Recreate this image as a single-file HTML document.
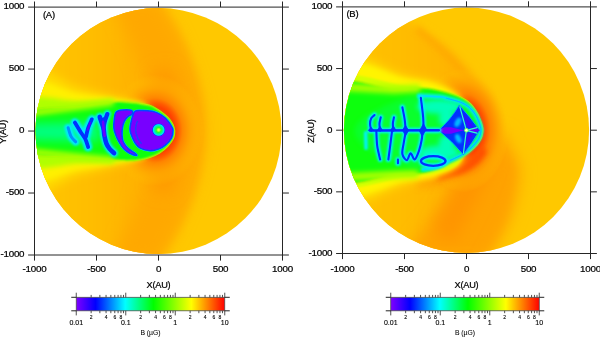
<!DOCTYPE html>
<html><head><meta charset="utf-8"><title>Heliosphere magnetic field</title>
<style>
html,body{margin:0;padding:0;background:#fff;}
body{width:600px;height:337px;overflow:hidden;}
svg{display:block;}
text{font-family:"Liberation Sans",sans-serif;fill:#000;stroke:#000;stroke-width:0.22px;}
.t{font-size:9.8px;letter-spacing:-0.25px;}
.m{font-size:7px;stroke-width:0.12px;}
.s{font-size:5px;stroke-width:0.1px;}
.b{font-size:6.8px;stroke-width:0.05px;}
</style></head><body>
<svg width="600" height="337" viewBox="0 0 600 337">
<defs>
<linearGradient id="rb" x1="0" x2="1" y1="0" y2="0">
<stop offset="0" stop-color="#8000ff"/>
<stop offset="0.13" stop-color="#0000ff"/>
<stop offset="0.33" stop-color="#00ffff"/>
<stop offset="0.52" stop-color="#00ff00"/>
<stop offset="0.775" stop-color="#ffff00"/>
<stop offset="1" stop-color="#ff0000"/>
</linearGradient>
<clipPath id="cca"><circle cx="0" cy="0" r="123.0"/></clipPath>
<clipPath id="ccb"><circle cx="0" cy="0" r="122.6"/></clipPath>
<filter id="b1" filterUnits="userSpaceOnUse" x="-200" y="-200" width="400" height="400"><feGaussianBlur stdDeviation="0.6"/></filter>
<filter id="b15" filterUnits="userSpaceOnUse" x="-200" y="-200" width="400" height="400"><feGaussianBlur stdDeviation="0.9"/></filter>
<filter id="b2" filterUnits="userSpaceOnUse" x="-200" y="-200" width="400" height="400"><feGaussianBlur stdDeviation="1.2"/></filter>
<filter id="b3" filterUnits="userSpaceOnUse" x="-200" y="-200" width="400" height="400"><feGaussianBlur stdDeviation="2.5"/></filter>
<filter id="b5" filterUnits="userSpaceOnUse" x="-200" y="-200" width="400" height="400"><feGaussianBlur stdDeviation="5"/></filter>
<filter id="b8" filterUnits="userSpaceOnUse" x="-200" y="-200" width="400" height="400"><feGaussianBlur stdDeviation="8"/></filter>
<filter id="b12" filterUnits="userSpaceOnUse" x="-200" y="-200" width="400" height="400"><feGaussianBlur stdDeviation="12"/></filter>
</defs>
<g transform="translate(158.50 131.05)" clip-path="url(#cca)"><g transform="translate(0.15 -0.2)">
<defs>
<radialGradient id="aglow" cx="0.5" cy="0.5" r="0.5">
<stop offset="0.42" stop-color="#ff4000" stop-opacity="1"/>
<stop offset="0.49" stop-color="#ff5a00" stop-opacity="1"/>
<stop offset="0.58" stop-color="#ff8400" stop-opacity="0.95"/>
<stop offset="0.75" stop-color="#ffa400" stop-opacity="0.7"/>
<stop offset="0.94" stop-color="#ffc000" stop-opacity="0.15"/>
<stop offset="1" stop-color="#ffc000" stop-opacity="0"/>
</radialGradient>
<linearGradient id="abow" gradientUnits="userSpaceOnUse" x1="-123" y1="0" x2="45" y2="0">
<stop offset="0" stop-color="#ffc600"/>
<stop offset="0.3" stop-color="#ffbe00"/>
<stop offset="0.55" stop-color="#ffb400"/>
<stop offset="1" stop-color="#ffb000"/>
</linearGradient>
<radialGradient id="asun" cx="0.5" cy="0.5" r="0.5">
<stop offset="0" stop-color="#f0ff60"/>
<stop offset="0.2" stop-color="#a0ff30"/>
<stop offset="0.36" stop-color="#20ff30"/>
<stop offset="0.55" stop-color="#00ff80"/>
<stop offset="0.78" stop-color="#00e0ff"/>
<stop offset="0.92" stop-color="#0040ff"/>
<stop offset="1" stop-color="#6000ff" stop-opacity="0"/>
</radialGradient>
</defs>
<rect x="-130" y="-130" width="260" height="260" fill="#ffc800"/>
<!-- broad orange bow region -->
<path d="M45 0 C45 -30 40 -60 22 -95 C15 -108 8 -118 0 -128 L-140 -135 L-140 135 L0 128 C8 118 15 108 22 95 C40 60 45 30 45 0Z" fill="url(#abow)" filter="url(#b5)"/>
<!-- plume -->
<path d="M44 0 C44 -12 43 -22 40 -31 C37 -45 33 -58 28 -71 C23 -84 18 -96 12 -107 L0 -130 L-46 -130 L-36 -107 C-30 -94 -25 -82 -21 -71 C-17 -58 -13 -45 -10 -31 L-6 0 L-10 31 C-13 45 -17 58 -21 71 C-25 82 -30 94 -36 107 L-46 130 L0 130 L12 107 C18 96 23 84 28 71 C33 58 37 45 40 31 C43 22 44 12 44 0Z" fill="#ffa800" filter="url(#b8)"/>
<path d="M2 -60 C8 -40 13 -18 18 0 C13 18 8 40 2 60" fill="none" stroke="#ff9800" stroke-width="20" filter="url(#b8)"/>
<!-- red glow at nose -->
<ellipse cx="-4" cy="-0.5" rx="48" ry="56" fill="url(#aglow)"/>

<!-- fuzzy tail -->
<path d="M-135.00 -58.00 C-125.83 -74.67 -95.83 -47.17 -80.00 -43.00 C-64.17 -38.83 -51.33 -36.17 -40.00 -33.00 C-28.67 -29.83 -17.83 -29.50 -12.00 -24.00 C-6.17 -18.50 -5.00 -8.00 -5.00 0.00 C-5.00 8.00 -6.17 18.33 -12.00 24.00 C-17.83 29.67 -28.67 30.67 -40.00 34.00 C-51.33 37.33 -64.17 40.17 -80.00 44.00 C-95.83 47.83 -125.83 74.00 -135.00 57.00 C-144.17 40.00 -144.17 -41.33 -135.00 -58.00Z" fill="#ffdc00" filter="url(#b5)"/>
<path d="M-135.00 -46.00 C-125.83 -60.00 -95.83 -39.50 -80.00 -37.00 C-64.17 -34.50 -51.33 -33.17 -40.00 -31.00 C-28.67 -28.83 -17.83 -29.17 -12.00 -24.00 C-6.17 -18.83 -5.00 -8.00 -5.00 0.00 C-5.00 8.00 -6.17 18.67 -12.00 24.00 C-17.83 29.33 -28.67 29.50 -40.00 32.00 C-51.33 34.50 -64.17 36.50 -80.00 39.00 C-95.83 41.50 -125.83 61.17 -135.00 47.00 C-144.17 32.83 -144.17 -32.00 -135.00 -46.00Z" fill="#fff000" filter="url(#b3)"/>
<path d="M-135.00 -29.00 C-125.83 -39.42 -95.83 -29.50 -80.00 -29.50 C-64.17 -29.50 -51.33 -29.92 -40.00 -29.00 C-28.67 -28.08 -17.83 -28.83 -12.00 -24.00 C-6.17 -19.17 -5.00 -8.00 -5.00 0.00 C-5.00 8.00 -6.17 19.00 -12.00 24.00 C-17.83 29.00 -28.67 28.58 -40.00 30.00 C-51.33 31.42 -64.17 32.00 -80.00 32.50 C-95.83 33.00 -125.83 43.25 -135.00 33.00 C-144.17 22.75 -144.17 -18.58 -135.00 -29.00Z" fill="#b0ff00" filter="url(#b3)"/>
<path d="M-135.00 -17.00 C-125.83 -24.33 -95.22 -22.07 -80.00 -24.00 C-64.78 -25.93 -52.48 -27.97 -43.65 -28.60 C-34.82 -29.23 -30.94 -28.03 -27.00 -27.80 C-23.06 -27.57 -23.10 -27.67 -20.00 -27.20 C-16.90 -26.73 -11.57 -26.03 -8.40 -25.00 C-5.23 -23.97 -3.40 -22.52 -1.00 -21.00 C1.40 -19.48 4.08 -17.48 6.00 -15.90 C7.92 -14.32 9.20 -13.08 10.50 -11.50 C11.80 -9.92 12.95 -8.23 13.80 -6.40 C14.65 -4.57 15.47 -2.73 15.60 -0.50 C15.73 1.73 15.73 4.38 14.60 7.00 C13.47 9.62 11.10 12.73 8.80 15.20 C6.50 17.67 3.77 19.97 0.80 21.80 C-2.17 23.63 -5.70 25.07 -9.00 26.20 C-12.30 27.33 -15.67 28.05 -19.00 28.60 C-22.33 29.15 -24.89 29.43 -29.00 29.50 C-33.11 29.57 -35.15 29.58 -43.65 29.00 C-52.15 28.42 -64.78 27.50 -80.00 26.00 C-95.22 24.50 -125.83 27.17 -135.00 20.00 C-144.17 12.83 -144.17 -9.67 -135.00 -17.00Z" fill="#fff000" stroke="#fff000" stroke-width="1.8" filter="url(#b1)"/>
<path d="M-135.00 -17.00 C-125.83 -24.33 -95.22 -22.07 -80.00 -24.00 C-64.78 -25.93 -52.48 -27.97 -43.65 -28.60 C-34.82 -29.23 -30.94 -28.03 -27.00 -27.80 C-23.06 -27.57 -23.10 -27.67 -20.00 -27.20 C-16.90 -26.73 -11.57 -26.03 -8.40 -25.00 C-5.23 -23.97 -3.40 -22.52 -1.00 -21.00 C1.40 -19.48 4.08 -17.48 6.00 -15.90 C7.92 -14.32 9.20 -13.08 10.50 -11.50 C11.80 -9.92 12.95 -8.23 13.80 -6.40 C14.65 -4.57 15.47 -2.73 15.60 -0.50 C15.73 1.73 15.73 4.38 14.60 7.00 C13.47 9.62 11.10 12.73 8.80 15.20 C6.50 17.67 3.77 19.97 0.80 21.80 C-2.17 23.63 -5.70 25.07 -9.00 26.20 C-12.30 27.33 -15.67 28.05 -19.00 28.60 C-22.33 29.15 -24.89 29.43 -29.00 29.50 C-33.11 29.57 -35.15 29.58 -43.65 29.00 C-52.15 28.42 -64.78 27.50 -80.00 26.00 C-95.22 24.50 -125.83 27.17 -135.00 20.00 C-144.17 12.83 -144.17 -9.67 -135.00 -17.00Z" fill="#10ff08" filter="url(#b15)"/>
<path d="M-135 -17 L-80 -24 L-48 -28.4 M-135 20 L-80 26 L-48 29" fill="none" stroke="#a8ff00" stroke-width="7" stroke-linecap="round" filter="url(#b3)"/>
<path d="M-60 -9 L-135 -7 L-135 9 L-60 11Z" fill="#00ff80" filter="url(#b5)"/>
<g filter="url(#b1)">
<path d="M14.30 -0.50 C14.30 -2.47 13.45 -3.27 12.80 -4.60 C12.15 -5.93 11.42 -7.15 10.40 -8.50 C9.38 -9.85 8.10 -11.42 6.70 -12.70 C5.30 -13.98 3.67 -15.19 2.00 -16.20 C0.32 -17.21 -1.18 -18.12 -3.35 -18.75 C-5.52 -19.38 -8.47 -19.74 -11.00 -20.00 C-13.53 -20.26 -16.33 -20.42 -18.50 -20.30 C-20.67 -20.18 -22.65 -20.52 -24.00 -19.30 C-25.35 -18.08 -25.88 -15.38 -26.60 -13.00 C-27.32 -10.62 -27.97 -7.03 -28.30 -5.00 C-28.63 -2.98 -28.77 -2.38 -28.60 -0.85 C-28.43 0.68 -28.15 2.01 -27.30 4.20 C-26.45 6.39 -24.97 10.12 -23.50 12.30 C-22.03 14.48 -21.02 16.05 -18.50 17.30 C-15.98 18.55 -11.43 19.63 -8.40 19.80 C-5.37 19.97 -2.82 19.22 -0.30 18.30 C2.22 17.38 4.52 16.15 6.70 14.30 C8.88 12.45 11.53 9.67 12.80 7.20 C14.07 4.73 14.30 1.47 14.30 -0.50Z" fill="#7800ff" stroke="#00d8ff" stroke-width="2.2"/>
<path d="M-27.00 -20.30 C-28.58 -20.97 -33.42 -21.05 -36.00 -20.80 C-38.58 -20.55 -41.12 -20.27 -42.50 -18.80 C-43.88 -17.33 -43.92 -14.63 -44.30 -12.00 C-44.68 -9.37 -45.02 -5.67 -44.80 -3.00 C-44.58 -0.33 -43.83 1.68 -43.00 4.00 C-42.17 6.32 -41.13 8.57 -39.80 10.90 C-38.47 13.23 -36.80 16.08 -35.00 18.00 C-33.20 19.92 -31.17 21.30 -29.00 22.40 C-26.83 23.50 -22.83 24.67 -22.00 24.60 C-21.17 24.53 -22.58 23.18 -24.00 22.00 C-25.42 20.82 -28.60 19.35 -30.50 17.50 C-32.40 15.65 -34.38 13.15 -35.40 10.90 C-36.42 8.65 -36.47 6.32 -36.60 4.00 C-36.73 1.68 -36.55 -0.83 -36.20 -3.00 C-35.85 -5.17 -35.37 -7.17 -34.50 -9.00 C-33.63 -10.83 -32.33 -12.70 -31.00 -14.00 C-29.67 -15.30 -27.17 -15.75 -26.50 -16.80 C-25.83 -17.85 -25.42 -19.63 -27.00 -20.30Z" fill="#7800ff" stroke="#00d8ff" stroke-width="2"/>
<path d="M14.30 -0.50 C14.30 -2.47 13.45 -3.27 12.80 -4.60 C12.15 -5.93 11.42 -7.15 10.40 -8.50 C9.38 -9.85 8.10 -11.42 6.70 -12.70 C5.30 -13.98 3.67 -15.19 2.00 -16.20 C0.32 -17.21 -1.18 -18.12 -3.35 -18.75 C-5.52 -19.38 -8.47 -19.74 -11.00 -20.00 C-13.53 -20.26 -16.33 -20.42 -18.50 -20.30 C-20.67 -20.18 -22.65 -20.52 -24.00 -19.30 C-25.35 -18.08 -25.88 -15.38 -26.60 -13.00 C-27.32 -10.62 -27.97 -7.03 -28.30 -5.00 C-28.63 -2.98 -28.77 -2.38 -28.60 -0.85 C-28.43 0.68 -28.15 2.01 -27.30 4.20 C-26.45 6.39 -24.97 10.12 -23.50 12.30 C-22.03 14.48 -21.02 16.05 -18.50 17.30 C-15.98 18.55 -11.43 19.63 -8.40 19.80 C-5.37 19.97 -2.82 19.22 -0.30 18.30 C2.22 17.38 4.52 16.15 6.70 14.30 C8.88 12.45 11.53 9.67 12.80 7.20 C14.07 4.73 14.30 1.47 14.30 -0.50Z" fill="#7800ff" stroke="#0048ff" stroke-width="1.5"/>
<path d="M-27.00 -20.30 C-28.58 -20.97 -33.42 -21.05 -36.00 -20.80 C-38.58 -20.55 -41.12 -20.27 -42.50 -18.80 C-43.88 -17.33 -43.92 -14.63 -44.30 -12.00 C-44.68 -9.37 -45.02 -5.67 -44.80 -3.00 C-44.58 -0.33 -43.83 1.68 -43.00 4.00 C-42.17 6.32 -41.13 8.57 -39.80 10.90 C-38.47 13.23 -36.80 16.08 -35.00 18.00 C-33.20 19.92 -31.17 21.30 -29.00 22.40 C-26.83 23.50 -22.83 24.67 -22.00 24.60 C-21.17 24.53 -22.58 23.18 -24.00 22.00 C-25.42 20.82 -28.60 19.35 -30.50 17.50 C-32.40 15.65 -34.38 13.15 -35.40 10.90 C-36.42 8.65 -36.47 6.32 -36.60 4.00 C-36.73 1.68 -36.55 -0.83 -36.20 -3.00 C-35.85 -5.17 -35.37 -7.17 -34.50 -9.00 C-33.63 -10.83 -32.33 -12.70 -31.00 -14.00 C-29.67 -15.30 -27.17 -15.75 -26.50 -16.80 C-25.83 -17.85 -25.42 -19.63 -27.00 -20.30Z" fill="#7800ff" stroke="#0048ff" stroke-width="1.5"/>
<path d="M-21 -10 C-24.5 -3 -23.5 6 -17 13" fill="none" stroke="#0050ff" stroke-width="1.4" opacity="0.7"/>
</g>
<!-- blue ribs -->
<g fill="none" stroke-linecap="round" stroke-linejoin="round">
<g filter="url(#b2)" stroke="#00e8ff">
<path d="M-58.90 -13.90 C-58.52 -12.75 -57.23 -8.90 -56.60 -7.00 C-55.97 -5.10 -55.50 -4.50 -55.10 -2.50 C-54.70 -0.50 -54.68 2.47 -54.20 5.00 C-53.72 7.53 -53.07 10.53 -52.20 12.70 C-51.33 14.87 -50.27 16.42 -49.00 18.00 C-47.73 19.58 -45.33 21.50 -44.60 22.20" stroke-width="8"/>
<path d="M-51.30 -16.80 C-51.75 -15.50 -53.37 -11.38 -54.00 -9.00 C-54.63 -6.62 -54.92 -3.58 -55.10 -2.50" stroke-width="7.5"/>
<path d="M-83.80 -8.30 C-82.82 -6.68 -79.63 -1.32 -77.90 1.40 C-76.17 4.12 -74.63 5.53 -73.40 8.00 C-72.17 10.47 -70.98 14.83 -70.50 16.20" stroke-width="8.5"/>
<path d="M-66.80 -11.50 C-67.42 -10.08 -69.52 -5.92 -70.50 -3.00 C-71.48 -0.08 -72.33 4.50 -72.70 6.00" stroke-width="8.5"/>
<path d="M-90.50 -3.10 C-90.00 -1.62 -88.75 3.45 -87.50 5.80 C-86.25 8.15 -83.75 10.13 -83.00 11.00" stroke-width="7.5"/>
</g>
<g filter="url(#b1)" stroke="#0030ff">
<path d="M-58.90 -13.90 C-58.52 -12.75 -57.23 -8.90 -56.60 -7.00 C-55.97 -5.10 -55.50 -4.50 -55.10 -2.50 C-54.70 -0.50 -54.68 2.47 -54.20 5.00 C-53.72 7.53 -53.07 10.53 -52.20 12.70 C-51.33 14.87 -50.27 16.42 -49.00 18.00 C-47.73 19.58 -45.33 21.50 -44.60 22.20" stroke-width="4.6"/>
<path d="M-51.30 -16.80 C-51.75 -15.50 -53.37 -11.38 -54.00 -9.00 C-54.63 -6.62 -54.92 -3.58 -55.10 -2.50" stroke-width="4.2"/>
<path d="M-57.5 -12 L-52.5 -14 L-55 -4Z" fill="#0030ff" stroke-width="1"/>
<path d="M-83.80 -8.30 C-82.82 -6.68 -79.63 -1.32 -77.90 1.40 C-76.17 4.12 -74.63 5.53 -73.40 8.00 C-72.17 10.47 -70.98 14.83 -70.50 16.20" stroke-width="3.8"/>
<path d="M-66.80 -11.50 C-67.42 -10.08 -69.52 -5.92 -70.50 -3.00 C-71.48 -0.08 -72.33 4.50 -72.70 6.00" stroke-width="3.8"/>
<path d="M-90.50 -3.10 C-90.00 -1.62 -88.75 3.45 -87.50 5.80 C-86.25 8.15 -83.75 10.13 -83.00 11.00" stroke="#0090ff" stroke-width="3"/>
</g>
<path d="M-55.6 -9 C-55.4 -5 -55 0 -54 5" stroke="#6a00ff" stroke-width="2.6" filter="url(#b1)"/>
<path d="M-68.5 -8 L-71 -1" stroke="#5a00ff" stroke-width="1.8" filter="url(#b1)"/>
</g>
<!-- sun -->
<circle cx="0" cy="-0.9" r="6.8" fill="url(#asun)"/>

</g></g>
<g transform="translate(466.50 130.20)" clip-path="url(#ccb)"><g transform="translate(0.35 0.6)">
<defs>
<radialGradient id="bglow" cx="0.5" cy="0.5" r="0.5">
<stop offset="0" stop-color="#ff3000" stop-opacity="1"/>
<stop offset="0.4" stop-color="#ff5000" stop-opacity="0.9"/>
<stop offset="0.7" stop-color="#ff7800" stop-opacity="0.55"/>
<stop offset="1" stop-color="#ff9800" stop-opacity="0"/>
</radialGradient>
<linearGradient id="bbow" gradientUnits="userSpaceOnUse" x1="-123" y1="0" x2="45" y2="0">
<stop offset="0" stop-color="#ffc400"/>
<stop offset="0.35" stop-color="#ffbc00"/>
<stop offset="0.65" stop-color="#ffb400"/>
<stop offset="1" stop-color="#ffb000"/>
</linearGradient>
<radialGradient id="bglow2" cx="0.5" cy="0.5" r="0.5">
<stop offset="0.43" stop-color="#ff4000" stop-opacity="1"/>
<stop offset="0.50" stop-color="#ff5a00" stop-opacity="1"/>
<stop offset="0.60" stop-color="#ff8400" stop-opacity="0.95"/>
<stop offset="0.78" stop-color="#ffa600" stop-opacity="0.7"/>
<stop offset="0.96" stop-color="#ffc000" stop-opacity="0.15"/>
<stop offset="1" stop-color="#ffc000" stop-opacity="0"/>
</radialGradient>
</defs>
<rect x="-130" y="-130" width="260" height="260" fill="#ffc800"/>
<!-- orange region -->
<path d="M33.5 4 C32 -12 27 -25 20.5 -35.5 C12 -50 4 -60 -5.5 -70 C-15 -80 -22 -86 -31.5 -92 L-57.5 -109 L-100 -135 L-140 -135 L-140 135 L10 135 C22 118 36 100 40 80.8 C44 65 47 50 46.5 37.5 C45 28 40 22 37.8 20 C35 14 34 9 33.5 4Z" fill="url(#bbow)" filter="url(#b5)"/>
<!-- plumes -->
<path d="M38 0 C39 8 41 15 44 20 C49 26 52 32 52.5 38 C53 46 52 54 50 62 C48 70 47 76 45 82 C42 90 39 96 36 102 L22 128 L-64 128 L-50 108 C-42 98 -36 90 -30 80 C-22 70 -16 60 -10 50 L5 22Z" fill="#ffa200" filter="url(#b8)"/>
<path d="M15 24 C12 36 6 50 -2 64 C-8 76 -16 92 -24 106" fill="none" stroke="#ff9400" stroke-width="24" filter="url(#b8)"/>
<path d="M22 -22 C10 -45 -15 -75 -50 -102" fill="none" stroke="#ffa400" stroke-width="8" filter="url(#b3)" opacity="0.55"/>
<!-- glow around nose -->
<path d="M-20 -43 C-8 -41 4 -37 12 -29 C19 -19 22 -8 22 0 C22 10 19 20 13 27 C6 35 -4 40 -18 43 L-50 47" fill="none" stroke="#ff8400" stroke-width="16" filter="url(#b5)" opacity="0.8"/>
<ellipse cx="-4" cy="-0.5" rx="46" ry="62" fill="url(#bglow2)"/>
<path d="M17 18 C13 26 5 34 -5 38 C-12 41 -20 43 -30 45" fill="none" stroke="#ff5000" stroke-width="9" filter="url(#b3)"/>

<!-- fuzzy halo -->
<path d="M-135.00 -70.00 C-122.50 -90.33 -77.50 -58.67 -60.00 -55.00 C-42.50 -51.33 -39.00 -51.83 -30.00 -48.00 C-21.00 -44.17 -11.00 -40.00 -6.00 -32.00 C-1.00 -24.00 0.00 -10.50 0.00 0.00 C0.00 10.50 -1.00 23.33 -6.00 31.00 C-11.00 38.67 -21.00 42.33 -30.00 46.00 C-39.00 49.67 -42.50 49.50 -60.00 53.00 C-77.50 56.50 -122.50 87.50 -135.00 67.00 C-147.50 46.50 -147.50 -49.67 -135.00 -70.00Z" fill="#ffdc00" filter="url(#b5)"/>
<path d="M-135.00 -64.00 C-122.50 -82.67 -77.50 -55.00 -60.00 -52.00 C-42.50 -49.00 -39.00 -49.50 -30.00 -46.00 C-21.00 -42.50 -11.00 -38.67 -6.00 -31.00 C-1.00 -23.33 0.00 -10.17 0.00 0.00 C0.00 10.17 -1.00 22.58 -6.00 30.00 C-11.00 37.42 -21.00 41.17 -30.00 44.50 C-39.00 47.83 -42.50 47.42 -60.00 50.00 C-77.50 52.58 -122.50 79.00 -135.00 60.00 C-147.50 41.00 -147.50 -45.33 -135.00 -64.00Z" fill="#fff400" filter="url(#b3)"/>
<path d="M-135.00 -50.00 C-122.50 -65.92 -77.50 -45.92 -60.00 -44.50 C-42.50 -43.08 -39.00 -43.92 -30.00 -41.50 C-21.00 -39.08 -11.00 -36.92 -6.00 -30.00 C-1.00 -23.08 0.00 -10.00 0.00 0.00 C0.00 10.00 -1.00 23.00 -6.00 30.00 C-11.00 37.00 -21.00 39.42 -30.00 42.00 C-39.00 44.58 -42.50 44.00 -60.00 45.50 C-77.50 47.00 -122.50 66.92 -135.00 51.00 C-147.50 35.08 -147.50 -34.08 -135.00 -50.00Z" fill="#d4ff00" filter="url(#b2)"/>
<path d="M-135.00 -44.50 C-124.67 -59.17 -88.17 -41.32 -73.00 -41.00 C-57.83 -40.68 -52.55 -43.00 -44.00 -42.60 C-35.45 -42.20 -27.95 -40.13 -21.70 -38.60 C-15.45 -37.07 -10.68 -35.37 -6.50 -33.40 C-2.32 -31.43 0.58 -29.53 3.40 -26.80 C6.22 -24.07 8.63 -20.05 10.40 -17.00 C12.17 -13.95 13.18 -10.67 14.00 -8.50 C14.82 -6.33 15.02 -5.33 15.30 -4.00 C15.58 -2.67 15.70 -1.67 15.70 -0.50 C15.70 0.67 15.58 1.67 15.30 3.00 C15.02 4.33 14.88 5.70 14.00 7.50 C13.12 9.30 12.00 11.52 10.00 13.80 C8.00 16.08 4.78 19.03 2.00 21.20 C-0.78 23.37 -3.62 25.03 -6.70 26.80 C-9.78 28.57 -13.20 30.18 -16.50 31.80 C-19.80 33.42 -22.32 34.83 -26.50 36.50 C-30.68 38.17 -36.57 40.58 -41.60 41.80 C-46.63 43.02 -51.47 43.43 -56.70 43.80 C-61.93 44.17 -59.95 43.47 -73.00 44.00 C-86.05 44.53 -124.67 61.75 -135.00 47.00 C-145.33 32.25 -145.33 -29.83 -135.00 -44.50Z" fill="#fff000" stroke="#fff000" stroke-width="1.8" filter="url(#b1)"/>
<path d="M-135.00 -44.50 C-124.67 -59.17 -88.17 -41.32 -73.00 -41.00 C-57.83 -40.68 -52.55 -43.00 -44.00 -42.60 C-35.45 -42.20 -27.95 -40.13 -21.70 -38.60 C-15.45 -37.07 -10.68 -35.37 -6.50 -33.40 C-2.32 -31.43 0.58 -29.53 3.40 -26.80 C6.22 -24.07 8.63 -20.05 10.40 -17.00 C12.17 -13.95 13.18 -10.67 14.00 -8.50 C14.82 -6.33 15.02 -5.33 15.30 -4.00 C15.58 -2.67 15.70 -1.67 15.70 -0.50 C15.70 0.67 15.58 1.67 15.30 3.00 C15.02 4.33 14.88 5.70 14.00 7.50 C13.12 9.30 12.00 11.52 10.00 13.80 C8.00 16.08 4.78 19.03 2.00 21.20 C-0.78 23.37 -3.62 25.03 -6.70 26.80 C-9.78 28.57 -13.20 30.18 -16.50 31.80 C-19.80 33.42 -22.32 34.83 -26.50 36.50 C-30.68 38.17 -36.57 40.58 -41.60 41.80 C-46.63 43.02 -51.47 43.43 -56.70 43.80 C-61.93 44.17 -59.95 43.47 -73.00 44.00 C-86.05 44.53 -124.67 61.75 -135.00 47.00 C-145.33 32.25 -145.33 -29.83 -135.00 -44.50Z" fill="#10ff08" filter="url(#b15)"/>
<path d="M-135 -44.5 L-73 -41 L-50 -42.3 M-135 47 L-73 44 L-52 43.2" fill="none" stroke="#a8ff00" stroke-width="8" stroke-linecap="round" filter="url(#b3)"/>
<path d="M-112.00 0.00 C-112.00 -5.00 -108.43 -9.25 -101.90 -14.00 C-95.37 -18.75 -81.82 -25.00 -72.80 -28.50 C-63.78 -32.00 -55.43 -34.08 -47.80 -35.00 C-40.17 -35.92 -31.60 -34.42 -27.00 -34.00 C-22.40 -33.58 -23.62 -33.40 -20.20 -32.50 C-16.78 -31.60 -10.23 -30.08 -6.50 -28.60 C-2.77 -27.12 -0.32 -25.70 2.20 -23.60 C4.72 -21.50 6.93 -18.52 8.60 -16.00 C10.27 -13.48 11.37 -10.50 12.20 -8.50 C13.03 -6.50 13.28 -5.33 13.60 -4.00 C13.92 -2.67 14.10 -1.67 14.10 -0.50 C14.10 0.67 13.92 1.75 13.60 3.00 C13.28 4.25 13.07 5.40 12.20 7.00 C11.33 8.60 10.23 10.50 8.40 12.60 C6.57 14.70 3.68 17.57 1.20 19.60 C-1.28 21.63 -3.55 23.15 -6.50 24.80 C-9.45 26.45 -12.58 27.58 -16.50 29.50 C-20.42 31.42 -25.47 34.80 -30.00 36.30 C-34.53 37.80 -36.57 39.30 -43.70 38.50 C-50.83 37.70 -63.10 35.25 -72.80 31.50 C-82.50 27.75 -95.37 21.25 -101.90 16.00 C-108.43 10.75 -112.00 5.00 -112.00 0.00Z" fill="#00ffa0" opacity="0.22" filter="url(#b3)"/>
<!-- cyan tints -->
<g filter="url(#b3)" fill="#00ffd0" opacity="0.85">
<ellipse cx="-28" cy="-24" rx="22" ry="7"/>
<ellipse cx="-28" cy="22" rx="20" ry="7"/>
<ellipse cx="-20" cy="-12" rx="8" ry="8"/>
<ellipse cx="-20" cy="12" rx="8" ry="8"/>
</g>
<g fill="none" stroke-linecap="round">
<path d="M-47.80 -35.00 C-44.33 -34.83 -31.60 -34.42 -27.00 -34.00 C-22.40 -33.58 -23.62 -33.40 -20.20 -32.50 C-16.78 -31.60 -10.23 -30.08 -6.50 -28.60 C-2.77 -27.12 -0.32 -25.70 2.20 -23.60 C4.72 -21.50 6.93 -18.52 8.60 -16.00 C10.27 -13.48 11.37 -10.50 12.20 -8.50 C13.03 -6.50 13.28 -5.33 13.60 -4.00 C13.92 -2.67 14.10 -1.67 14.10 -0.50 C14.10 0.67 13.92 1.75 13.60 3.00 C13.28 4.25 13.07 5.40 12.20 7.00 C11.33 8.60 10.23 10.50 8.40 12.60 C6.57 14.70 3.68 17.57 1.20 19.60 C-1.28 21.63 -3.55 23.15 -6.50 24.80 C-9.45 26.45 -12.58 27.58 -16.50 29.50 C-20.42 31.42 -25.47 34.80 -30.00 36.30 C-34.53 37.80 -41.42 38.13 -43.70 38.50" stroke="#00f0e0" stroke-width="5" filter="url(#b2)" opacity="0.9"/>
<path d="M-47.80 -35.00 C-44.33 -34.83 -31.60 -34.42 -27.00 -34.00 C-22.40 -33.58 -23.62 -33.40 -20.20 -32.50 C-16.78 -31.60 -10.23 -30.08 -6.50 -28.60 C-2.77 -27.12 -0.32 -25.70 2.20 -23.60 C4.72 -21.50 6.93 -18.52 8.60 -16.00 C10.27 -13.48 11.37 -10.50 12.20 -8.50 C13.03 -6.50 13.28 -5.33 13.60 -4.00 C13.92 -2.67 14.10 -1.67 14.10 -0.50 C14.10 0.67 13.92 1.75 13.60 3.00 C13.28 4.25 13.07 5.40 12.20 7.00 C11.33 8.60 10.23 10.50 8.40 12.60 C6.57 14.70 3.68 17.57 1.20 19.60 C-1.28 21.63 -3.55 23.15 -6.50 24.80 C-9.45 26.45 -12.58 27.58 -16.50 29.50 C-20.42 31.42 -25.47 34.80 -30.00 36.30 C-34.53 37.80 -41.42 38.13 -43.70 38.50" stroke="#00d8ff" stroke-width="1.6" filter="url(#b1)"/>
<path d="M-20.20 -32.50 C-17.92 -31.85 -10.23 -30.08 -6.50 -28.60 C-2.77 -27.12 -0.32 -25.70 2.20 -23.60 C4.72 -21.50 6.93 -18.52 8.60 -16.00 C10.27 -13.48 11.37 -10.50 12.20 -8.50 C13.03 -6.50 13.28 -5.33 13.60 -4.00 C13.92 -2.67 14.10 -1.67 14.10 -0.50 C14.10 0.67 13.92 1.75 13.60 3.00 C13.28 4.25 13.07 5.40 12.20 7.00 C11.33 8.60 10.23 10.50 8.40 12.60 C6.57 14.70 3.68 17.57 1.20 19.60 C-1.28 21.63 -3.55 23.15 -6.50 24.80 C-9.45 26.45 -14.83 28.72 -16.50 29.50" stroke="#00a0ff" stroke-width="1" filter="url(#b1)" opacity="0.6"/>
</g>
<!-- diamond -->
<g filter="url(#b1)">
<path d="M-7.6 -25.7 Q3.5 -13.5 12.8 -0.5 Q6 11 -3.5 24 Q-14.5 10.5 -28.5 -0.5 Q-16.5 -10.5 -7.6 -25.7Z" fill="#0030ff" stroke="#00a0ff" stroke-width="0.9"/>
</g>
<g filter="url(#b15)">
<ellipse cx="-9" cy="-8.6" rx="2.8" ry="5" fill="#00b8ff" transform="rotate(25 -9 -8.6)"/>
<ellipse cx="-8.6" cy="7.8" rx="2.7" ry="4.8" fill="#00b8ff" transform="rotate(-25 -8.6 7.8)"/>
<path d="M-4.6 -19 L7.6 -2.8 L1 -3.5Z" fill="#4400ff"/>
<path d="M-2.4 18.5 L7.4 2 L1 2.6Z" fill="#4400ff"/>
</g>
<g filter="url(#b1)">
<path d="M-28.5 -0.5 L-22 -3.6 L-16 -3.6 L-8 -1.6 L-2 -0.5 L-8 0.8 L-16 3 L-22 3Z" fill="#7000ff"/>
<path d="M7.5 -2.8 L13 -0.5 L7.5 2 L2 -0.4Z" fill="#6000ff"/>
</g>
<g fill="none" stroke="#30ffc8" stroke-width="1.2" filter="url(#b1)" stroke-linecap="round">
<path d="M-0.5 -0.5 L-7 -24 M-0.5 -0.5 L-3.4 22.5 M-0.5 -0.5 L10 -3.2 M-0.5 -0.5 L10 2.4"/>
</g>
<circle cx="-0.45" cy="-0.5" r="2.2" fill="#70ff60" filter="url(#b1)"/>
<circle cx="-0.45" cy="-0.5" r="1.2" fill="#ffffd0" filter="url(#b1)"/>

<!-- spine and ribs -->
<g fill="none" stroke-linecap="round" stroke-linejoin="round">
<g filter="url(#b2)" stroke="#00f0ff" stroke-width="5.2">
<path d="M-97 -0.3 L-28 -0.5"/>
<path d="M-95.60 -0.20 C-95.80 -1.32 -96.80 -4.85 -96.80 -6.90 C-96.80 -8.95 -96.35 -11.02 -95.60 -12.50 C-94.85 -13.98 -92.85 -15.25 -92.30 -15.80 M-86.70 -0.20 C-86.82 -1.32 -87.50 -4.67 -87.40 -6.90 C-87.30 -9.13 -86.32 -12.48 -86.10 -13.60 M-73.40 -0.20 C-73.50 -1.32 -74.08 -4.68 -74.00 -6.90 C-73.92 -9.12 -73.08 -12.40 -72.90 -13.50 M-61.10 -0.20 C-61.28 -2.07 -61.63 -7.50 -62.20 -11.40 C-62.77 -15.30 -64.12 -21.57 -64.50 -23.60 M-43.30 -0.20 C-43.37 -2.43 -43.25 -8.13 -43.70 -13.60 C-44.15 -19.07 -45.62 -29.77 -46.00 -33.00 M-90.50 0.90 C-90.35 3.32 -90.23 10.77 -89.60 15.40 C-88.97 20.03 -87.18 26.48 -86.70 28.70 M-74.90 0.90 C-75.20 3.32 -76.10 10.77 -76.70 15.40 C-77.30 20.03 -78.20 26.48 -78.50 28.70 M-61.10 0.90 C-61.47 2.93 -62.73 9.38 -63.30 13.10 C-63.87 16.82 -65.05 20.48 -64.50 23.20 C-63.95 25.92 -61.38 29.52 -60.00 29.40 C-58.62 29.28 -57.50 22.62 -56.20 22.50 C-54.90 22.38 -53.60 29.15 -52.20 28.70 C-50.80 28.25 -48.98 23.13 -47.80 19.80 C-46.62 16.47 -45.67 11.85 -45.10 8.70 C-44.53 5.55 -44.52 2.20 -44.40 0.90 M-68.90 28.70 C-68.90 29.33 -68.90 31.87 -68.90 32.50"/>
<path d="M-101.20 2.00 C-101.13 4.60 -100.87 15.00 -100.80 17.60" stroke-width="3.4"/>
<ellipse cx="-33.6" cy="30.2" rx="12.3" ry="4.8"/>
</g>
<g filter="url(#b1)" stroke="#0030ff" stroke-width="2.1">
<path d="M-97 -0.3 L-28 -0.5" stroke-width="2.4"/>
<path d="M-95.60 -0.20 C-95.80 -1.32 -96.80 -4.85 -96.80 -6.90 C-96.80 -8.95 -96.35 -11.02 -95.60 -12.50 C-94.85 -13.98 -92.85 -15.25 -92.30 -15.80 M-86.70 -0.20 C-86.82 -1.32 -87.50 -4.67 -87.40 -6.90 C-87.30 -9.13 -86.32 -12.48 -86.10 -13.60 M-73.40 -0.20 C-73.50 -1.32 -74.08 -4.68 -74.00 -6.90 C-73.92 -9.12 -73.08 -12.40 -72.90 -13.50 M-61.10 -0.20 C-61.28 -2.07 -61.63 -7.50 -62.20 -11.40 C-62.77 -15.30 -64.12 -21.57 -64.50 -23.60 M-43.30 -0.20 C-43.37 -2.43 -43.25 -8.13 -43.70 -13.60 C-44.15 -19.07 -45.62 -29.77 -46.00 -33.00 M-90.50 0.90 C-90.35 3.32 -90.23 10.77 -89.60 15.40 C-88.97 20.03 -87.18 26.48 -86.70 28.70 M-74.90 0.90 C-75.20 3.32 -76.10 10.77 -76.70 15.40 C-77.30 20.03 -78.20 26.48 -78.50 28.70 M-61.10 0.90 C-61.47 2.93 -62.73 9.38 -63.30 13.10 C-63.87 16.82 -65.05 20.48 -64.50 23.20 C-63.95 25.92 -61.38 29.52 -60.00 29.40 C-58.62 29.28 -57.50 22.62 -56.20 22.50 C-54.90 22.38 -53.60 29.15 -52.20 28.70 C-50.80 28.25 -48.98 23.13 -47.80 19.80 C-46.62 16.47 -45.67 11.85 -45.10 8.70 C-44.53 5.55 -44.52 2.20 -44.40 0.90 M-68.90 28.70 C-68.90 29.33 -68.90 31.87 -68.90 32.50"/>
<ellipse cx="-33.6" cy="30.2" rx="12.3" ry="4.8" stroke-width="2.3"/>
<path d="M-98.5 -0.3 L-95.8 -3.5 L-93 -0.3 M-89.5 -0.3 L-86.9 -4.5 L-84.2 -0.3 M-76.2 -0.3 L-73.6 -5 L-70.8 -0.3 M-64.5 -0.3 L-61.4 -5.5 L-58.2 -0.3 M-47.2 -0.3 L-43.4 -7 L-39.8 -0.3 M-64 0 L-61.3 5 L-58.4 0 M-47.5 0 L-44.6 5.5 L-41.5 0" fill="#0030ff" stroke-width="0.8"/>
</g>
</g>

</g></g>
<rect x="34.5" y="7.1" width="248.00" height="247.90" fill="none" stroke="#262626" stroke-width="1"/>
<path d="M34.50 255.0 v5.6 M34.50 7.1 v-5.6" stroke="#262626" stroke-width="1" fill="none"/>
<text x="34.50" y="272.4" text-anchor="middle" class="t">-1000</text>
<path d="M34.5 255.00 h-6.4 M282.5 255.00 h6.4" stroke="#262626" stroke-width="1" fill="none"/>
<text x="24.30" y="257.30" text-anchor="end" class="t">-1000</text>
<path d="M96.50 255.0 v5.6 M96.50 7.1 v-5.6" stroke="#262626" stroke-width="1" fill="none"/>
<text x="96.50" y="272.4" text-anchor="middle" class="t">-500</text>
<path d="M34.5 193.03 h-6.4 M282.5 193.03 h6.4" stroke="#262626" stroke-width="1" fill="none"/>
<text x="24.30" y="195.33" text-anchor="end" class="t">-500</text>
<path d="M158.50 255.0 v5.6 M158.50 7.1 v-5.6" stroke="#262626" stroke-width="1" fill="none"/>
<text x="158.50" y="272.4" text-anchor="middle" class="t">0</text>
<path d="M34.5 131.05 h-6.4 M282.5 131.05 h6.4" stroke="#262626" stroke-width="1" fill="none"/>
<text x="24.30" y="133.35" text-anchor="end" class="t">0</text>
<path d="M220.50 255.0 v5.6 M220.50 7.1 v-5.6" stroke="#262626" stroke-width="1" fill="none"/>
<text x="220.50" y="272.4" text-anchor="middle" class="t">500</text>
<path d="M34.5 69.07 h-6.4 M282.5 69.07 h6.4" stroke="#262626" stroke-width="1" fill="none"/>
<text x="24.30" y="71.37" text-anchor="end" class="t">500</text>
<path d="M282.50 255.0 v5.6 M282.50 7.1 v-5.6" stroke="#262626" stroke-width="1" fill="none"/>
<text x="282.50" y="272.4" text-anchor="middle" class="t">1000</text>
<path d="M34.5 7.10 h-6.4 M282.5 7.10 h6.4" stroke="#262626" stroke-width="1" fill="none"/>
<text x="24.30" y="9.40" text-anchor="end" class="t">1000</text>
<text x="158.50" y="288.3" text-anchor="middle" class="t" style="font-size:9.2px">X(AU)</text>
<text transform="translate(5.70 131.85) rotate(-90)" text-anchor="middle" class="t" style="font-size:9.2px">Y(AU)</text>
<text x="42.90" y="17.60" class="t" style="font-size:9.5px">(A)</text>
<rect x="342.5" y="6.9" width="248.00" height="246.60" fill="none" stroke="#262626" stroke-width="1"/>
<path d="M342.50 253.5 v5.6 M342.50 6.9 v-5.6" stroke="#262626" stroke-width="1" fill="none"/>
<text x="342.50" y="272.4" text-anchor="middle" class="t">-1000</text>
<path d="M342.5 253.50 h-6.4 M590.5 253.50 h6.4" stroke="#262626" stroke-width="1" fill="none"/>
<text x="332.30" y="255.80" text-anchor="end" class="t">-1000</text>
<path d="M404.50 253.5 v5.6 M404.50 6.9 v-5.6" stroke="#262626" stroke-width="1" fill="none"/>
<text x="404.50" y="272.4" text-anchor="middle" class="t">-500</text>
<path d="M342.5 191.85 h-6.4 M590.5 191.85 h6.4" stroke="#262626" stroke-width="1" fill="none"/>
<text x="332.30" y="194.15" text-anchor="end" class="t">-500</text>
<path d="M466.50 253.5 v5.6 M466.50 6.9 v-5.6" stroke="#262626" stroke-width="1" fill="none"/>
<text x="466.50" y="272.4" text-anchor="middle" class="t">0</text>
<path d="M342.5 130.20 h-6.4 M590.5 130.20 h6.4" stroke="#262626" stroke-width="1" fill="none"/>
<text x="332.30" y="132.50" text-anchor="end" class="t">0</text>
<path d="M528.50 253.5 v5.6 M528.50 6.9 v-5.6" stroke="#262626" stroke-width="1" fill="none"/>
<text x="528.50" y="272.4" text-anchor="middle" class="t">500</text>
<path d="M342.5 68.55 h-6.4 M590.5 68.55 h6.4" stroke="#262626" stroke-width="1" fill="none"/>
<text x="332.30" y="70.85" text-anchor="end" class="t">500</text>
<path d="M590.50 253.5 v5.6 M590.50 6.9 v-5.6" stroke="#262626" stroke-width="1" fill="none"/>
<text x="590.50" y="272.4" text-anchor="middle" class="t">1000</text>
<path d="M342.5 6.90 h-6.4 M590.5 6.90 h6.4" stroke="#262626" stroke-width="1" fill="none"/>
<text x="332.30" y="9.20" text-anchor="end" class="t">1000</text>
<text x="466.50" y="288.3" text-anchor="middle" class="t" style="font-size:9.2px">X(AU)</text>
<text transform="translate(313.70 131.00) rotate(-90)" text-anchor="middle" class="t" style="font-size:9.2px">Z(AU)</text>
<text x="346.40" y="16.50" class="t" style="font-size:9.5px">(B)</text>
<rect x="76.25" y="297.3" width="148.50" height="13.50" fill="url(#rb)" stroke="#505050" stroke-width="0.8"/>
<path d="M76.25 297.3 h-5 M76.25 310.8 h-5 M224.75 297.3 h5 M224.75 310.8 h5" stroke="#262626" stroke-width="1"/>
<text x="91.15" y="318.8" text-anchor="middle" class="s">2</text>
<text x="106.05" y="318.8" text-anchor="middle" class="s">4</text>
<text x="114.77" y="318.8" text-anchor="middle" class="s">6</text>
<text x="120.95" y="318.8" text-anchor="middle" class="s">8</text>
<text x="140.65" y="318.8" text-anchor="middle" class="s">2</text>
<text x="155.55" y="318.8" text-anchor="middle" class="s">4</text>
<text x="164.27" y="318.8" text-anchor="middle" class="s">6</text>
<text x="170.45" y="318.8" text-anchor="middle" class="s">8</text>
<text x="190.15" y="318.8" text-anchor="middle" class="s">2</text>
<text x="205.05" y="318.8" text-anchor="middle" class="s">4</text>
<text x="213.77" y="318.8" text-anchor="middle" class="s">6</text>
<text x="219.95" y="318.8" text-anchor="middle" class="s">8</text>
<path d="M76.25 297.3 v-4.6 M76.25 310.8 v4.6 M91.15 297.3 v-2.4 M91.15 310.8 v2.4 M99.87 297.3 v-2.4 M99.87 310.8 v2.4 M106.05 297.3 v-2.4 M106.05 310.8 v2.4 M110.85 297.3 v-2.4 M110.85 310.8 v2.4 M114.77 297.3 v-2.4 M114.77 310.8 v2.4 M118.08 297.3 v-2.4 M118.08 310.8 v2.4 M120.95 297.3 v-2.4 M120.95 310.8 v2.4 M123.49 297.3 v-2.4 M123.49 310.8 v2.4 M125.75 297.3 v-4.6 M125.75 310.8 v4.6 M140.65 297.3 v-2.4 M140.65 310.8 v2.4 M149.37 297.3 v-2.4 M149.37 310.8 v2.4 M155.55 297.3 v-2.4 M155.55 310.8 v2.4 M160.35 297.3 v-2.4 M160.35 310.8 v2.4 M164.27 297.3 v-2.4 M164.27 310.8 v2.4 M167.58 297.3 v-2.4 M167.58 310.8 v2.4 M170.45 297.3 v-2.4 M170.45 310.8 v2.4 M172.99 297.3 v-2.4 M172.99 310.8 v2.4 M175.25 297.3 v-4.6 M175.25 310.8 v4.6 M190.15 297.3 v-2.4 M190.15 310.8 v2.4 M198.87 297.3 v-2.4 M198.87 310.8 v2.4 M205.05 297.3 v-2.4 M205.05 310.8 v2.4 M209.85 297.3 v-2.4 M209.85 310.8 v2.4 M213.77 297.3 v-2.4 M213.77 310.8 v2.4 M217.08 297.3 v-2.4 M217.08 310.8 v2.4 M219.95 297.3 v-2.4 M219.95 310.8 v2.4 M222.49 297.3 v-2.4 M222.49 310.8 v2.4 M224.75 297.3 v-4.6 M224.75 310.8 v4.6" stroke="#262626" stroke-width="0.8" fill="none"/>
<text x="76.25" y="325.2" text-anchor="middle" class="m">0.01</text>
<text x="125.75" y="325.2" text-anchor="middle" class="m">0.1</text>
<text x="175.25" y="325.2" text-anchor="middle" class="m">1</text>
<text x="224.75" y="325.2" text-anchor="middle" class="m">10</text>
<text x="150.50" y="335.3" text-anchor="middle" class="b">B (µG)</text>
<rect x="390.75" y="297.3" width="148.50" height="13.50" fill="url(#rb)" stroke="#505050" stroke-width="0.8"/>
<path d="M390.75 297.3 h-5 M390.75 310.8 h-5 M539.25 297.3 h5 M539.25 310.8 h5" stroke="#262626" stroke-width="1"/>
<text x="405.65" y="318.8" text-anchor="middle" class="s">2</text>
<text x="420.55" y="318.8" text-anchor="middle" class="s">4</text>
<text x="429.27" y="318.8" text-anchor="middle" class="s">6</text>
<text x="435.45" y="318.8" text-anchor="middle" class="s">8</text>
<text x="455.15" y="318.8" text-anchor="middle" class="s">2</text>
<text x="470.05" y="318.8" text-anchor="middle" class="s">4</text>
<text x="478.77" y="318.8" text-anchor="middle" class="s">6</text>
<text x="484.95" y="318.8" text-anchor="middle" class="s">8</text>
<text x="504.65" y="318.8" text-anchor="middle" class="s">2</text>
<text x="519.55" y="318.8" text-anchor="middle" class="s">4</text>
<text x="528.27" y="318.8" text-anchor="middle" class="s">6</text>
<text x="534.45" y="318.8" text-anchor="middle" class="s">8</text>
<path d="M390.75 297.3 v-4.6 M390.75 310.8 v4.6 M405.65 297.3 v-2.4 M405.65 310.8 v2.4 M414.37 297.3 v-2.4 M414.37 310.8 v2.4 M420.55 297.3 v-2.4 M420.55 310.8 v2.4 M425.35 297.3 v-2.4 M425.35 310.8 v2.4 M429.27 297.3 v-2.4 M429.27 310.8 v2.4 M432.58 297.3 v-2.4 M432.58 310.8 v2.4 M435.45 297.3 v-2.4 M435.45 310.8 v2.4 M437.99 297.3 v-2.4 M437.99 310.8 v2.4 M440.25 297.3 v-4.6 M440.25 310.8 v4.6 M455.15 297.3 v-2.4 M455.15 310.8 v2.4 M463.87 297.3 v-2.4 M463.87 310.8 v2.4 M470.05 297.3 v-2.4 M470.05 310.8 v2.4 M474.85 297.3 v-2.4 M474.85 310.8 v2.4 M478.77 297.3 v-2.4 M478.77 310.8 v2.4 M482.08 297.3 v-2.4 M482.08 310.8 v2.4 M484.95 297.3 v-2.4 M484.95 310.8 v2.4 M487.49 297.3 v-2.4 M487.49 310.8 v2.4 M489.75 297.3 v-4.6 M489.75 310.8 v4.6 M504.65 297.3 v-2.4 M504.65 310.8 v2.4 M513.37 297.3 v-2.4 M513.37 310.8 v2.4 M519.55 297.3 v-2.4 M519.55 310.8 v2.4 M524.35 297.3 v-2.4 M524.35 310.8 v2.4 M528.27 297.3 v-2.4 M528.27 310.8 v2.4 M531.58 297.3 v-2.4 M531.58 310.8 v2.4 M534.45 297.3 v-2.4 M534.45 310.8 v2.4 M536.99 297.3 v-2.4 M536.99 310.8 v2.4 M539.25 297.3 v-4.6 M539.25 310.8 v4.6" stroke="#262626" stroke-width="0.8" fill="none"/>
<text x="390.75" y="325.2" text-anchor="middle" class="m">0.01</text>
<text x="440.25" y="325.2" text-anchor="middle" class="m">0.1</text>
<text x="489.75" y="325.2" text-anchor="middle" class="m">1</text>
<text x="539.25" y="325.2" text-anchor="middle" class="m">10</text>
<text x="465.00" y="335.3" text-anchor="middle" class="b">B (µG)</text>
</svg>
</body></html>
